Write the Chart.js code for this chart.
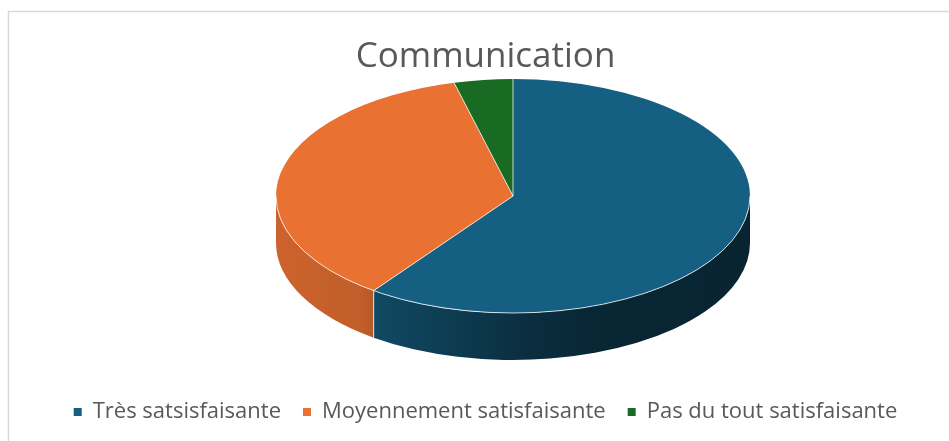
<!DOCTYPE html>
<html>
<head>
<meta charset="utf-8">
<title>Communication</title>
<script src="https://cdn.jsdelivr.net/npm/chart.js@4"></script>
<style>
    html, body { margin: 0; padding: 0; background: #fff; }
    #wrap { width: 949px; height: 441px; position: relative; }
</style>
</head>
<body>
<div id="wrap"><canvas id="chart"></canvas></div>
<script>
// --- data ---
const chartTitle = 'Communication';
const categories = ['Très satsisfaisante', 'Moyennement satisfaisante', 'Pas du tout satisfaisante'];
const shares = [60, 36, 4];
const sliceColors = ['#156082', '#E97132', '#196B24'];

// --- 3D look (ellipse of the top face + thickness) ---
const pie3d = { cx: 513, cy: 196, rx: 237, ry: 117, depth: 47 };
// darkening of the side wall from left (0) to right (1)
const sideShade = [[0, 0.88], [0.18, 0.83], [0.22, 0.75], [0.37, 0.62], [0.55, 0.46], [0.7, 0.4], [1, 0.38]];
const edgeColor = 'rgba(255,255,255,0.75)';

const hexToRgb = hex => {
    const n = parseInt(hex.slice(1), 16);
    return [(n >> 16) & 255, (n >> 8) & 255, n & 255];
};

const ellipsePoint = angle => ({
    x: pie3d.cx + pie3d.rx * Math.cos(angle),
    y: pie3d.cy + pie3d.ry * Math.sin(angle)
});

const pie3dPlugin = {
    id: 'pie3d',
    beforeDraw(chart) {
        const ctx = chart.ctx;
        ctx.save();
        ctx.fillStyle = '#fff';
        ctx.fillRect(0, 0, chart.width, chart.height);
        // chart frame (right/bottom sides are cut off in the picture)
        ctx.strokeStyle = '#d9d9d9';
        ctx.lineWidth = 1.5;
        ctx.strokeRect(8.5, 11.5, chart.width + 20, chart.height + 20);
        ctx.restore();
    },
    beforeDatasetsDraw(chart) {
        const ctx = chart.ctx;
        const arcs = chart.getDatasetMeta(0).data;
        const { cx, cy, rx, ry, depth } = pie3d;

        // side walls, only the front half (canvas angles 0..PI) is visible
        ctx.save();
        arcs.forEach((arc, i) => {
            const a0 = Math.max(arc.startAngle, 0);
            const a1 = Math.min(arc.endAngle, Math.PI);
            if (a1 <= a0) return;
            const rgb = hexToRgb(sliceColors[i]);
            const grad = ctx.createLinearGradient(cx - rx, 0, cx + rx, 0);
            sideShade.forEach(([pos, k]) => {
                grad.addColorStop(pos, `rgb(${rgb.map(c => Math.round(c * k)).join(',')})`);
            });
            ctx.beginPath();
            ctx.ellipse(cx, cy, rx, ry, 0, a0, a1);
            ctx.ellipse(cx, cy + depth, rx, ry, 0, a1, a0, true);
            ctx.closePath();
            ctx.fillStyle = grad;
            ctx.fill();
        });
        ctx.restore();

        // squash Chart.js' round pie into the tilted top face
        const first = arcs[0];
        const r = first.outerRadius;
        ctx.save();
        ctx.translate(cx, cy);
        ctx.scale(rx / r, ry / r);
        ctx.translate(-first.x, -first.y);
    },
    afterDatasetsDraw(chart) {
        const ctx = chart.ctx;
        ctx.restore();
        const arcs = chart.getDatasetMeta(0).data;
        const { cx, cy, depth } = pie3d;

        ctx.save();
        ctx.strokeStyle = edgeColor;
        ctx.lineWidth = 1;
        // slice dividers on the top face and on the wall
        arcs.forEach(arc => {
            const p = ellipsePoint(arc.startAngle);
            ctx.beginPath();
            ctx.moveTo(cx, cy);
            ctx.lineTo(p.x, p.y);
            ctx.stroke();
            const a = ((arc.startAngle % (2 * Math.PI)) + 2 * Math.PI) % (2 * Math.PI);
            if (a > 0 && a < Math.PI) {
                ctx.beginPath();
                ctx.moveTo(p.x, p.y);
                ctx.lineTo(p.x, p.y + depth);
                ctx.stroke();
            }
        });
        // front rim between top face and wall
        ctx.beginPath();
        ctx.ellipse(cx, cy, pie3d.rx, pie3d.ry, 0, 0, Math.PI);
        ctx.stroke();
        ctx.restore();
    }
};

new Chart(document.getElementById('chart'), {
    type: 'pie',
    data: {
        labels: categories,
        datasets: [{
            data: shares,
            backgroundColor: sliceColors,
            borderWidth: 0
        }]
    },
    options: {
        responsive: true,
        maintainAspectRatio: false,
        animation: false,
        events: [],
        layout: { padding: { left: 22, top: 0, right: 0, bottom: 8 } },
        plugins: {
            title: {
                display: true,
                text: chartTitle,
                color: '#595959',
                font: { family: 'Open Sans', size: 35, weight: 'normal' },
                padding: { top: 36, bottom: 10 }
            },
            legend: {
                position: 'bottom',
                labels: {
                    color: '#595959',
                    font: { family: 'Open Sans', size: 22 },
                    boxWidth: 8,
                    boxHeight: 8,
                    padding: 22
                }
            },
            tooltip: { enabled: false }
        }
    },
    plugins: [pie3dPlugin]
});
</script>
</body>
</html>
